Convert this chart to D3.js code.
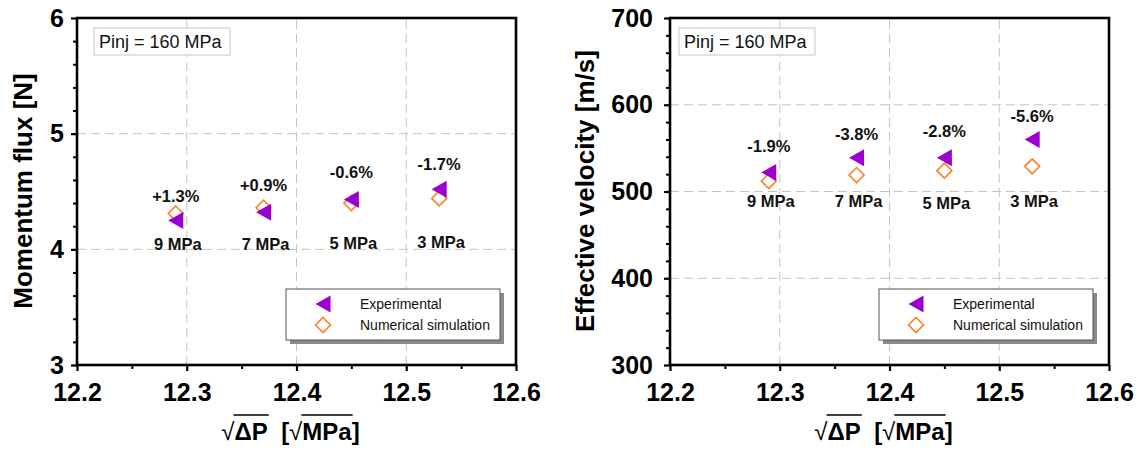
<!DOCTYPE html>
<html>
<head>
<meta charset="utf-8">
<script src="https://cdn.jsdelivr.net/npm/d3@7"></script>
<style>
  body { margin: 0; background: #fff; }
  svg { display: block; }
  text { font-family: "Liberation Sans", Arial, sans-serif; }
</style>
</head>
<body>
<svg id="chart" width="1145" height="453"></svg>
<script>
// ---------------- data ----------------
const xTicks = [12.2, 12.3, 12.4, 12.5, 12.6];
const xMinorTicks = [12.25, 12.35, 12.45, 12.55];
const sqrtDeltaP = [12.29, 12.37, 12.45, 12.53];
const backPressure = ["9 MPa", "7 MPa", "5 MPa", "3 MPa"];

const fluxTicks = [3, 4, 5, 6];
const fluxExperimental = [4.25, 4.32, 4.43, 4.52];
const fluxSimulation = [4.31, 4.36, 4.40, 4.44];
const fluxDeviation = ["+1.3%", "+0.9%", "-0.6%", "-1.7%"];
const fluxDeviationAt = [4.465, 4.556, 4.671, 4.736];
const fluxPressureAt = [4.05, 4.05, 4.055, 4.066];

const velTicks = [300, 400, 500, 600, 700];
const velExperimental = [522, 539, 539, 560];
const velSimulation = [512, 519, 524, 529];
const velDeviation = ["-1.9%", "-3.8%", "-2.8%", "-5.6%"];
const velDeviationAt = [553, 566, 570, 586.5];
const velPressureAt = [488.5, 488.5, 487, 489];

const legendLabels = ["Experimental", "Numerical simulation"];
const infoText = "Pinj = 160 MPa";

// ---------------- drawing ----------------
const svg = d3.select("#chart");
const PURPLE = "#9b00cf";
const ORANGE = "#ff7f2a";
const triPath = "M-7.5,0L7.5,-8.5L7.5,8.5Z";
const diaPath = "M0,-7.5L7.5,0L0,7.5L-7.5,0Z";

function panel(opt) {
  const g = svg.append("g");
  const x = d3.scaleLinear().domain([12.2, 12.6]).range([opt.x0, opt.x1]);
  const y = d3.scaleLinear().domain(opt.yDomain).range([365, 18]);

  // grid
  g.append("g").selectAll("line.vx").data(xTicks.slice(1, -1)).join("line")
    .attr("x1", d => x(d)).attr("x2", d => x(d)).attr("y1", y.range()[0]).attr("y2", y.range()[1])
    .attr("stroke", "#c4c4c4").attr("stroke-width", 1).attr("stroke-dasharray", "9,5");
  g.append("g").selectAll("line.hy").data(opt.yTicks.slice(1, -1)).join("line")
    .attr("y1", d => y(d)).attr("y2", d => y(d)).attr("x1", opt.x0).attr("x2", opt.x1)
    .attr("stroke", "#c4c4c4").attr("stroke-width", 1).attr("stroke-dasharray", "9,5");

  // axes (major + minor ticks)
  const xAxis = g.append("g").attr("transform", `translate(0,365)`)
    .call(d3.axisBottom(x).tickValues(xTicks).tickSize(6).tickSizeOuter(0).tickPadding(12).tickFormat(d3.format(".1f")));
  xAxis.select(".domain").remove();
  xAxis.selectAll("line").attr("stroke", "#000").attr("stroke-width", 2.2);
  xAxis.selectAll("text").attr("font-size", 25).attr("font-weight", "bold").attr("fill", "#000")
    .attr("font-family", "Liberation Sans, Arial, sans-serif");
  const xMinor = g.append("g").attr("transform", `translate(0,365)`)
    .call(d3.axisBottom(x).tickValues(xMinorTicks).tickSize(4).tickSizeOuter(0).tickFormat(""));
  xMinor.select(".domain").remove();
  xMinor.selectAll("line").attr("stroke", "#000").attr("stroke-width", 2);

  const yAxis = g.append("g").attr("transform", `translate(${opt.x0},0)`)
    .call(d3.axisLeft(y).tickValues(opt.yTicks).tickSize(6).tickSizeOuter(0).tickPadding(opt.labelPad).tickFormat(d3.format("d")));
  yAxis.select(".domain").remove();
  yAxis.selectAll("line").attr("stroke", "#000").attr("stroke-width", 2.2);
  yAxis.selectAll("text").attr("font-size", 25).attr("font-weight", "bold").attr("fill", "#000")
    .attr("font-family", "Liberation Sans, Arial, sans-serif");
  const yMinor = g.append("g").attr("transform", `translate(${opt.x0},0)`)
    .call(d3.axisLeft(y).tickValues(opt.yMinor).tickSize(4).tickSizeOuter(0).tickFormat(""));
  yMinor.select(".domain").remove();
  yMinor.selectAll("line").attr("stroke", "#000").attr("stroke-width", 2);

  // frame
  g.append("rect").attr("x", opt.x0).attr("y", 18).attr("width", opt.x1 - opt.x0).attr("height", 347)
    .attr("fill", "none").attr("stroke", "#000").attr("stroke-width", 2.6);

  // markers: simulation (diamonds) then experimental (triangles)
  g.append("g").selectAll("path").data(opt.sim).join("path")
    .attr("d", diaPath)
    .attr("transform", (d, i) => `translate(${x(sqrtDeltaP[i])},${y(d)})`)
    .attr("fill", "none").attr("stroke", ORANGE).attr("stroke-width", 1.6);
  g.append("g").selectAll("path").data(opt.exp).join("path")
    .attr("d", triPath)
    .attr("transform", (d, i) => `translate(${x(sqrtDeltaP[i])},${y(d)})`)
    .attr("fill", PURPLE);

  // annotations
  g.append("g").selectAll("text").data(opt.dev).join("text")
    .attr("x", (d, i) => x(sqrtDeltaP[i])).attr("y", (d, i) => y(opt.devAt[i]))
    .attr("text-anchor", "middle").attr("dominant-baseline", "central")
    .attr("font-size", 16.5).attr("font-weight", "bold").attr("fill", "#111").text(d => d);
  g.append("g").selectAll("text").data(backPressure).join("text")
    .attr("x", (d, i) => x(sqrtDeltaP[i]) + 2).attr("y", (d, i) => y(opt.pressAt[i]))
    .attr("text-anchor", "middle").attr("dominant-baseline", "central")
    .attr("font-size", 16.5).attr("font-weight", "bold").attr("fill", "#111").text(d => d);

  // info box
  const ib = g.append("g").attr("transform", `translate(${opt.x0 + opt.infoDx},28)`);
  ib.append("rect").attr("width", 136).attr("height", 27).attr("fill", "#fff")
    .attr("stroke", "#cfcfcf").attr("stroke-width", 1.2);
  ib.append("text").attr("x", 5).attr("y", 14).attr("dominant-baseline", "central")
    .attr("font-size", 18).attr("fill", "#111").text(infoText);

  // legend
  const lg = g.append("g").attr("transform", `translate(${opt.x1 - 230},289)`);
  lg.append("rect").attr("x", 4).attr("y", 4).attr("width", 214).attr("height", 51).attr("fill", "#8a8a8a");
  lg.append("rect").attr("width", 214).attr("height", 51).attr("fill", "#fff")
    .attr("stroke", "#555").attr("stroke-width", 1);
  lg.append("path").attr("d", triPath).attr("transform", "translate(37,15)").attr("fill", PURPLE);
  lg.append("path").attr("d", diaPath).attr("transform", "translate(37,36)")
    .attr("fill", "none").attr("stroke", ORANGE).attr("stroke-width", 1.6);
  lg.selectAll("text.l").data(legendLabels).join("text")
    .attr("x", 74).attr("y", (d, i) => 15 + i * 21).attr("dominant-baseline", "central")
    .attr("font-size", 14).attr("fill", "#111").text(d => d);

  // y title
  g.append("text").attr("transform", `translate(${opt.yTitleX},191) rotate(-90)`)
    .attr("text-anchor", "middle").attr("dominant-baseline", "central")
    .attr("font-size", 26).attr("font-weight", "bold").attr("fill", "#000").text(opt.yTitle);

  // x title: sqrt(ΔP) [sqrt(MPa)]
  const fs = 24;
  const tg = g.append("g");
  const segs = [
    { t: "\u221A", w: "normal", over: false },
    { t: "\u0394P", w: "bold", over: true },
    { t: "  [", w: "bold", over: false },
    { t: "\u221A", w: "normal", over: false },
    { t: "MPa", w: "bold", over: true },
    { t: "]", w: "bold", over: false }
  ];
  let cx = 0;
  const base = 440;
  const pieces = [];
  segs.forEach(s => {
    const t = tg.append("text").attr("x", cx).attr("y", base).attr("font-size", fs)
      .attr("font-weight", s.w).attr("fill", "#000").attr("xml:space", "preserve")
      .style("white-space", "pre").text(s.t);
    const w = t.node().getComputedTextLength();
    pieces.push({ x: cx, w: w, over: s.over });
    cx += w;
  });
  pieces.forEach(p => {
    if (p.over) {
      tg.append("line").attr("x1", p.x - 1).attr("x2", p.x + p.w + 1)
        .attr("y1", base - 25).attr("y2", base - 25).attr("stroke", "#000").attr("stroke-width", 1.6);
    }
  });
  const center = (opt.x0 + opt.x1) / 2 - 6;
  tg.attr("transform", `translate(${center - cx / 2},0)`);
}

panel({
  x0: 77, x1: 516, yDomain: [3, 6], yTicks: fluxTicks,
  yMinor: d3.range(3.2, 6, 0.2).filter(v => Math.abs(v - Math.round(v)) > 0.01),
  exp: fluxExperimental, sim: fluxSimulation, dev: fluxDeviation, devAt: fluxDeviationAt,
  pressAt: fluxPressureAt, infoDx: 17, labelPad: 7, yTitle: "Momentum flux [N]", yTitleX: 23
});
panel({
  x0: 670, x1: 1109, yDomain: [300, 700], yTicks: velTicks,
  yMinor: d3.range(320, 700, 20).filter(v => v % 100 !== 0),
  exp: velExperimental, sim: velSimulation, dev: velDeviation, devAt: velDeviationAt,
  pressAt: velPressureAt, infoDx: 9, labelPad: 11, yTitle: "Effective velocity [m/s]", yTitleX: 585
});
</script>
</body>
</html>
